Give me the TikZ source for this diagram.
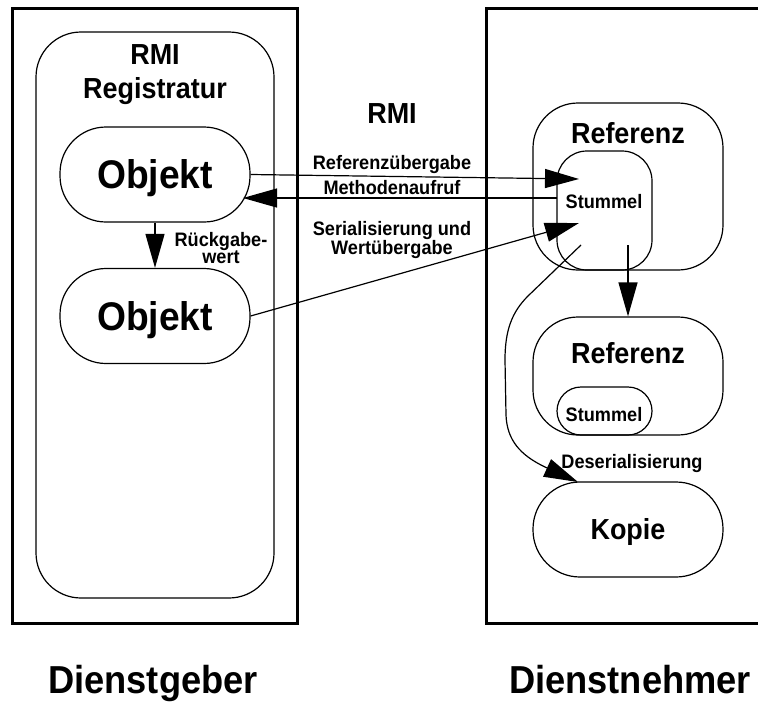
\documentclass[tikz,border=0pt]{standalone}
\usepackage{fontspec}
\setmainfont{Liberation Sans}[FakeStretch=0.93]
\usetikzlibrary{arrows.meta}

% font sizes (bold sans, slightly condensed)
\newcommand{\fsmall}{\fontsize{19.5}{18}\bfseries\selectfont}
\newcommand{\fsmallt}{\fontsize{19.5}{15}\bfseries\selectfont}
\newcommand{\fmid}{\fontsize{29}{34}\bfseries\selectfont}
\newcommand{\fbig}{\fontsize{40}{40}\bfseries\selectfont}
\newcommand{\fhuge}{\fontsize{39}{40}\bfseries\selectfont}

\begin{document}
\begin{tikzpicture}[x=1pt,y=-1pt,
  frame/.style={line width=3pt},
  box/.style={draw, line width=1.2pt, rounded corners=#1, inner sep=0pt},
  lbl/.style={inner sep=0pt},
  arr/.style={line width=1.2pt, -{Triangle[length=34pt,width=19pt]}}
]
\useasboundingbox (0,0) rectangle (758,702);
\clip (0,0) rectangle (758,702);

% outer frames: server (left) and client (right)
\draw[frame] (12.5,8) rectangle (297,623);
\draw[frame] (790,8) -| (486,623) -- (790,623);

% server side
\node[box=45pt, minimum width=238pt, minimum height=566pt] (reg) at (155,315) {};
\node[lbl, font=\fmid, align=center] (regtitle) at (155,75) {RMI\\Registratur};
\node[box=46pt, minimum width=190pt, minimum height=95pt] (obj1) at (155,174.5) {};
\node[lbl, font=\fbig, anchor=base] (obj1t) at (155,188) {Objekt};
\node[box=46pt, minimum width=190pt, minimum height=95pt] (obj2) at (155,316) {};
\node[lbl, font=\fbig, anchor=base] (obj2t) at (155,330) {Objekt};
\node[lbl, font=\fsmallt, align=center] (rueck) at (221,248) {Rückgabe-\\wert};

% client side
\node[box=45pt, minimum width=190pt, minimum height=167pt] (ref1) at (628,186.5) {};
\node[lbl, font=\fmid, anchor=base] (ref1t) at (628,143) {Referenz};
\node[box=30pt, minimum width=95pt, minimum height=119pt] (stub1) at (604.5,210.5) {};
\node[lbl, font=\fsmall, anchor=base] (stub1t) at (604,208) {Stummel};

\node[box=45pt, minimum width=190pt, minimum height=118pt] (ref2) at (628,376) {};
\node[lbl, font=\fmid, anchor=base] (ref2t) at (628,363) {Referenz};
\node[box=24pt, minimum width=95pt, minimum height=48pt] (stub2) at (604.5,411) {};
\node[lbl, font=\fsmall, anchor=base] (stub2t) at (604,421) {Stummel};

\node[box=47pt, minimum width=190pt, minimum height=95pt] (kopie) at (628,529.5) {};
\node[lbl, font=\fmid, anchor=base] (kopiet) at (628,539) {Kopie};
\node[lbl, font=\fsmall, anchor=base] (deser) at (632,468) {Deserialisierung};

% channel labels
\node[lbl, font=\fmid, anchor=base] (rmi) at (392,123) {RMI};
\node[lbl, font=\fsmall, anchor=base] (refueb) at (392,169) {Referenzübergabe};
\node[lbl, font=\fsmall, anchor=base] (meth) at (392,194) {Methodenaufruf};
\node[lbl, font=\fsmall, align=center] (serial) at (392,240) {Serialisierung und\\Wertübergabe};

% bottom captions
\node[lbl, font=\fhuge, anchor=base] (geber) at (153,693) {Dienstgeber};
\node[lbl, font=\fhuge, anchor=base] (nehmer) at (630,693) {Dienstnehmer};

% connector end points
\coordinate (refin)  at (579,179);
\coordinate (methout) at (557,198);
\coordinate (methin) at (243,198);
\coordinate (serin)  at (579,223);
\coordinate (desout) at (581,245);
\coordinate (desin)  at (578,482);
\coordinate (stubout) at (628,245);

% connectors
\draw[arr] (obj1.east) -- (refin);
\draw[arr] (methout) -- (methin);
\draw[arr] (obj2.east) -- (serin);
\draw[arr] (obj1.south) -- (obj2.north);
\draw[arr] (stubout) -- (ref2.north);
\draw[arr] (desout) -- (528,296)
  .. controls (512,312) and (505,330) .. (505,360)
  -- (506,415)
  .. controls (507,440) and (520,455) .. (545,467)
  -- (desin);
\end{tikzpicture}
\end{document}
